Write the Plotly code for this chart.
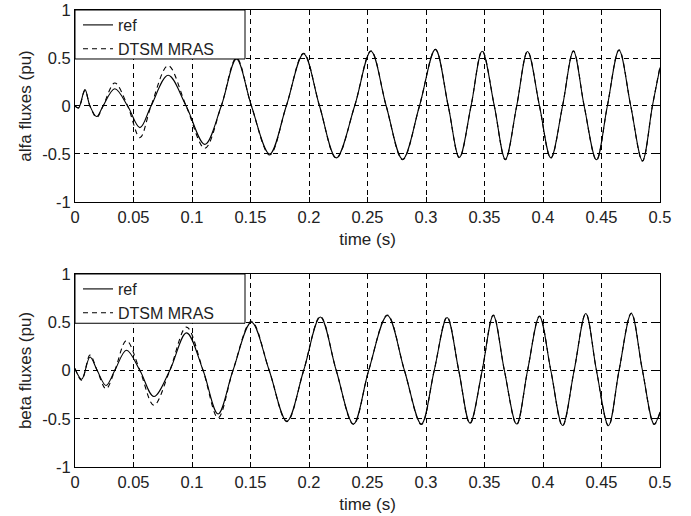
import plotly.graph_objects as go

# ---- data (key points: extrema and zero crossings) ----
alfa_t = [0, 0.003, 0.0085, 0.0128, 0.0185, 0.024, 0.034, 0.045, 0.0555, 0.065, 0.0796, 0.095,
          0.111, 0.125, 0.138, 0.1508, 0.1664, 0.1806, 0.1954, 0.209, 0.2233, 0.239, 0.253,
          0.266, 0.280, 0.2944, 0.308, 0.319, 0.3285, 0.3385, 0.348, 0.3584, 0.3678, 0.3775,
          0.3868, 0.397, 0.4067, 0.4167, 0.426, 0.4352, 0.4457, 0.455, 0.465, 0.475, 0.485,
          0.4935, 0.5]
alfa_ref = [0, -0.02, 0.17, 0.0, -0.11, 0.0, 0.18, 0.0, -0.225, 0.0, 0.32, 0.0,
            -0.40, 0.0, 0.49, 0.0, -0.50, 0.0, 0.545, 0.0, -0.54, 0.0, 0.57,
            0.0, -0.555, 0.0, 0.59, 0.0, -0.535, 0.0, 0.57, 0.0, -0.555, 0.0,
            0.567, 0.0, -0.54, 0.0, 0.57, 0.0, -0.56, 0.0, 0.58, 0.0, -0.57,
            0.0, 0.40]
alfa_mras = [0, -0.02, 0.16, 0.0, -0.12, 0.0, 0.24, 0.0, -0.33, 0.0, 0.42, 0.0,
             -0.44, 0.0, 0.50, 0.0, -0.51, 0.0, 0.55, 0.0, -0.545, 0.0, 0.575,
             0.0, -0.56, 0.0, 0.59, 0.0, -0.54, 0.0, 0.575, 0.0, -0.56, 0.0,
             0.57, 0.0, -0.545, 0.0, 0.575, 0.0, -0.565, 0.0, 0.585, 0.0, -0.575,
             0.0, 0.41]

beta_t = [0, 0.0057, 0.0128, 0.019, 0.0265, 0.034, 0.044, 0.0555, 0.0674, 0.081, 0.0953,
          0.1095, 0.1223, 0.135, 0.1508, 0.166, 0.1811, 0.1954, 0.2097, 0.2233, 0.238,
          0.251, 0.267, 0.2816, 0.296, 0.307, 0.318, 0.328, 0.3376, 0.348, 0.3575, 0.367,
          0.3775, 0.3868, 0.397, 0.4067, 0.4167, 0.4266, 0.4366, 0.4457, 0.456, 0.465,
          0.4755, 0.485, 0.495, 0.5]
beta_ref = [0.02, -0.09, 0.14, 0.0, -0.155, 0.0, 0.21, 0.0, -0.27, 0.0, 0.39,
            0.0, -0.45, 0.0, 0.50, 0.0, -0.525, 0.0, 0.555, 0.0, -0.555,
            0.0, 0.57, 0.0, -0.555, 0.0, 0.55, 0.0, -0.545, 0.0, 0.57, 0.0,
            -0.555, 0.0, 0.56, 0.0, -0.57, 0.0, 0.59, 0.0, -0.57, 0.0,
            0.59, 0.0, -0.555, -0.43]
beta_mras = [0.02, -0.1, 0.16, 0.0, -0.19, 0.0, 0.31, 0.0, -0.36, 0.0, 0.45,
             0.0, -0.49, 0.0, 0.51, 0.0, -0.53, 0.0, 0.56, 0.0, -0.56,
             0.0, 0.575, 0.0, -0.56, 0.0, 0.555, 0.0, -0.55, 0.0, 0.575, 0.0,
             -0.56, 0.0, 0.565, 0.0, -0.575, 0.0, 0.59, 0.0, -0.575, 0.0,
             0.595, 0.0, -0.56, -0.44]

x_ticks = [0, 0.05, 0.1, 0.15, 0.2, 0.25, 0.3, 0.35, 0.4, 0.45, 0.5]
x_ticklabels = ["0", "0.05", "0.1", "0.15", "0.2", "0.25", "0.3", "0.35", "0.4", "0.45", "0.5"]
y_ticks = [-1, -0.5, 0, 0.5, 1]
y_ticklabels = ["-1", "-0.5", "0", "0.5", "1"]

FONT = "Liberation Sans, Arial, sans-serif"
TXT = "#222222"
DASH = "5px,4px"
TICKSIZE = 16.5

fig = go.Figure()
fig.add_trace(go.Scatter(x=alfa_t, y=alfa_ref, name="ref", mode="lines",
                         line=dict(color="black", width=1.1, shape="spline", smoothing=1.0),
                         xaxis="x", yaxis="y", legend="legend"))
fig.add_trace(go.Scatter(x=alfa_t, y=alfa_mras, name="DTSM MRAS", mode="lines",
                         line=dict(color="black", width=1.1, dash=DASH, shape="spline", smoothing=1.0),
                         xaxis="x", yaxis="y", legend="legend"))
fig.add_trace(go.Scatter(x=beta_t, y=beta_ref, name="ref", mode="lines",
                         line=dict(color="black", width=1.1, shape="spline", smoothing=1.0),
                         xaxis="x2", yaxis="y2", legend="legend2"))
fig.add_trace(go.Scatter(x=beta_t, y=beta_mras, name="DTSM MRAS", mode="lines",
                         line=dict(color="black", width=1.1, dash=DASH, shape="spline", smoothing=1.0),
                         xaxis="x2", yaxis="y2", legend="legend2"))

top_dom = [0.5799, 1.0]
bot_dom = [0.0, 0.4223]

def xaxis(anchor):
    return dict(range=[0, 0.5], tickvals=x_ticks, ticktext=x_ticklabels, anchor=anchor,
                showline=True, linecolor="black", linewidth=1, mirror="ticks",
                ticks="inside", ticklen=5, tickcolor="black", automargin=False,
                showgrid=True, gridcolor="black", gridwidth=1, griddash=DASH,
                zeroline=False, tickfont=dict(family=FONT, size=TICKSIZE, color=TXT),
                title=dict(text="time (s)", font=dict(family=FONT, size=17, color=TXT), standoff=8))

def yaxis(anchor, dom, label):
    return dict(range=[-1, 1], tickvals=y_ticks, ticktext=y_ticklabels, anchor=anchor, domain=dom,
                showline=True, linecolor="black", linewidth=1, mirror="ticks",
                ticks="inside", ticklen=5, tickcolor="black", automargin=False,
                showgrid=True, gridcolor="black", gridwidth=1, griddash=DASH,
                zeroline=False, tickfont=dict(family=FONT, size=TICKSIZE, color=TXT),
                title=dict(text=label, font=dict(family=FONT, size=17, color=TXT), standoff=6))

legend_style = dict(x=3 / 585.0, xanchor="left", yanchor="top", bgcolor="rgba(0,0,0,0)",
                    borderwidth=0, font=dict(family=FONT, size=16, color=TXT),
                    tracegroupgap=0)

# legend boxes (white, bordered) drawn over the grid, behind the legend text
box_w = 170 / 585.0
box_h_top = 49 / 192.0
shapes = [
    dict(type="rect", xref="x domain", yref="y domain", x0=0, x1=box_w, y0=1 - box_h_top, y1=1,
         line=dict(color="black", width=1), fillcolor="white", layer="above"),
    dict(type="rect", xref="x2 domain", yref="y2 domain", x0=0, x1=box_w, y0=1 - box_h_top, y1=1,
         line=dict(color="black", width=1), fillcolor="white", layer="above"),
]

plot_h = 516 - 10 - 49
fig.update_layout(
    width=691, height=516,
    margin=dict(l=75, r=31, t=10, b=49, autoexpand=False),
    paper_bgcolor="white", plot_bgcolor="white",
    showlegend=True,
    xaxis=xaxis("y"),
    yaxis=yaxis("x", top_dom, "alfa fluxes (pu)"),
    xaxis2=xaxis("y2"),
    yaxis2=yaxis("x2", bot_dom, "beta fluxes (pu)"),
    legend=dict(y=1.0 + 2.0 / plot_h, **legend_style),
    legend2=dict(y=bot_dom[1] + 2.0 / plot_h, **legend_style),
    shapes=shapes,
)

fig.write_html("out.html", config={"displayModeBar": False},
               post_script="document.body.style.margin='0';")
